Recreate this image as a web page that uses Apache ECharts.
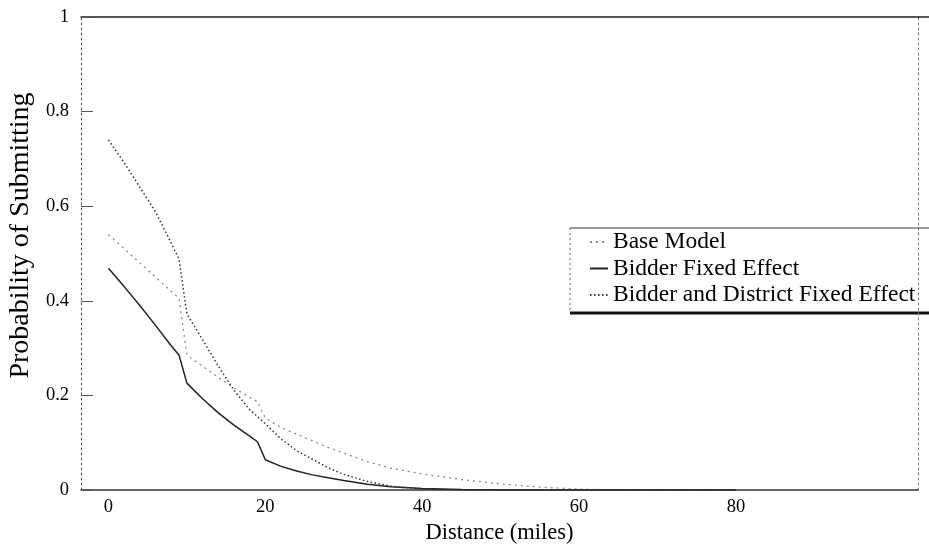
<!DOCTYPE html>
<html>
<head>
<meta charset="utf-8">
<script src="https://cdn.jsdelivr.net/npm/echarts@6/dist/echarts.min.js"></script>
<style>
  html, body { margin: 0; padding: 0; background: #fff; }
  #chart { width: 929px; height: 554px; }
</style>
</head>
<body>
<div id="chart"></div>
<script>
// distance knots (miles)
var distances = [0, 2, 4, 6, 8, 9, 10, 12, 14, 16, 18, 19, 20, 22, 24, 26, 28, 30, 33, 36, 40, 45, 50, 55, 60, 65, 70, 80]

var baseModel = [0.54, 0.51, 0.48, 0.45, 0.42, 0.405, 0.285, 0.262, 0.238, 0.216, 0.196, 0.187, 0.152, 0.132, 0.118, 0.104, 0.09, 0.078, 0.06, 0.046, 0.034, 0.022, 0.013, 0.006, 0.002, 0, 0, 0]
var bidderFE = [0.469, 0.43, 0.39, 0.348, 0.305, 0.285, 0.226, 0.193, 0.163, 0.137, 0.114, 0.102, 0.064, 0.05, 0.04, 0.032, 0.026, 0.02, 0.012, 0.007, 0.003, 0.001, 0, 0, 0, 0, 0, 0]
var bidderDistrictFE = [0.74, 0.692, 0.64, 0.588, 0.522, 0.488, 0.372, 0.318, 0.262, 0.211, 0.17, 0.155, 0.14, 0.108, 0.083, 0.065, 0.047, 0.033, 0.018, 0.008, 0.002, 0, 0, 0, 0, 0, 0, 0]

var seriesNames = ['Base Model', 'Bidder Fixed Effect', 'Bidder and District Fixed Effect']
var xTickLabels = [0, 20, 40, 60, 80]

var serif = '"Liberation Serif", "DejaVu Serif", serif'

function pairs(ys) {
  return distances.map(function (d, i) { return [d, ys[i]] })
}

var chart = echarts.init(document.getElementById('chart'), null, { renderer: 'canvas' })

chart.setOption({
  backgroundColor: '#fff',
  animation: false,
  grid: { left: 81, right: 11, top: 17, bottom: 64, outerBoundsMode: 'none', containLabel: false },
  legend: {
    orient: 'vertical',
    left: 584,
    top: 225,
    itemWidth: 18,
    itemHeight: 10,
    itemGap: 2.5,
    itemStyle: { opacity: 0 },
    textStyle: { fontFamily: serif, fontSize: 23.5, color: '#000' },
    data: seriesNames
  },
  xAxis: [{
    type: 'value',
    min: -3.5,
    max: 103.2,
    name: 'Distance (miles)',
    nameLocation: 'middle',
    nameGap: 21,
    nameTextStyle: { fontFamily: serif, fontSize: 22.5, color: '#000' },
    axisLine: { show: true, onZero: false, lineStyle: { color: '#333', width: 1.5 } },
    axisTick: { show: false },
    splitLine: { show: false },
    axisLabel: {
      customValues: xTickLabels,
      margin: 8,
      fontFamily: serif, fontSize: 18.5, color: '#000'
    }
  }, {
    type: 'value',
    position: 'top',
    min: -3.5,
    max: 103.2,
    axisLine: { show: true, onZero: false, lineStyle: { color: '#222', width: 1.5 } },
    axisTick: { show: false },
    axisLabel: { show: false },
    splitLine: { show: false }
  }],
  yAxis: [{
    type: 'value',
    min: 0,
    max: 1,
    interval: 0.2,
    name: 'Probability of Submitting',
    nameLocation: 'middle',
    nameGap: 46,
    nameTextStyle: { fontFamily: serif, fontSize: 28, color: '#000', padding: [0, 0, 0, 36] },
    axisLine: { show: true, onZero: false, lineStyle: { color: '#555', width: 1, type: [2, 3] } },
    axisTick: { show: true, inside: true, length: 12, lineStyle: { color: '#555', width: 1 } },
    splitLine: { show: false },
    axisLabel: { margin: 12, fontFamily: serif, fontSize: 18.5, color: '#000' }
  }, {
    type: 'value',
    position: 'right',
    min: 0,
    max: 1,
    axisLine: { show: true, onZero: false, lineStyle: { color: '#777', width: 1, type: [2, 3] } },
    axisTick: { show: false },
    axisLabel: { show: false },
    splitLine: { show: false }
  }],
  graphic: [
    // top frame line runs on to the right edge of the picture
    { type: 'line', shape: { x1: 918, y1: 17, x2: 929, y2: 17 }, style: { stroke: '#222', lineWidth: 1.5 } },
    // legend box: thin top, dotted left, heavy bottom
    { type: 'line', shape: { x1: 570, y1: 228, x2: 929, y2: 228 }, style: { stroke: '#333', lineWidth: 1 } },
    { type: 'line', shape: { x1: 570, y1: 228, x2: 570, y2: 313 }, style: { stroke: '#666', lineWidth: 1, lineDash: [2, 3] } },
    { type: 'line', shape: { x1: 570, y1: 313, x2: 929, y2: 313 }, style: { stroke: '#111', lineWidth: 3 } }
  ],
  series: [{
    name: seriesNames[0],
    type: 'line',
    symbol: 'none',
    data: pairs(baseModel),
    lineStyle: { color: '#8a8a8a', width: 1.3, type: [2, 4] },
    itemStyle: { color: '#8a8a8a' }
  }, {
    name: seriesNames[1],
    type: 'line',
    symbol: 'none',
    data: pairs(bidderFE),
    lineStyle: { color: '#222', width: 1.5, type: 'solid' },
    itemStyle: { color: '#222' }
  }, {
    name: seriesNames[2],
    type: 'line',
    symbol: 'none',
    data: pairs(bidderDistrictFE),
    lineStyle: { color: '#333', width: 1.5, type: [1.5, 2.5] },
    itemStyle: { color: '#333' }
  }]
})
</script>
</body>
</html>
